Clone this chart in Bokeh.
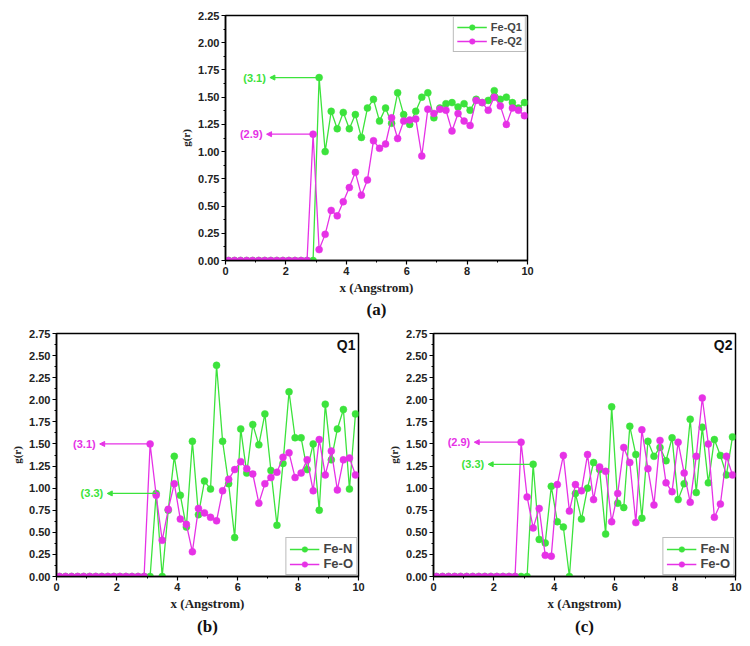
from bokeh.plotting import figure
from bokeh.layouts import column, row, Spacer
from bokeh.models import (Arrow, NormalHead, Label, Legend, LegendItem, Range1d,
                          FixedTicker, NumeralTickFormatter, Title)
from bokeh.embed import file_html
from bokeh.resources import INLINE

# ---------------- data ----------------
r = [round(0.1 + 0.2 * i, 1) for i in range(50)]  # sampling grid (Angstrom)

# panel (a)
fe_q1 = [0.0] * 15 + [1.68, 1.00, 1.37, 1.21, 1.36, 1.21, 1.34, 1.13, 1.40, 1.48,
                      1.28, 1.40, 1.26, 1.54, 1.34, 1.25, 1.37, 1.50, 1.54, 1.31,
                      1.40, 1.44, 1.45, 1.41, 1.44, 1.38, 1.48, 1.45, 1.47, 1.56,
                      1.48, 1.50, 1.45, 1.40, 1.45]
fe_q2 = [0.0] * 14 + [1.16, 0.10, 0.24, 0.46, 0.41, 0.54, 0.67, 0.81, 0.60, 0.74,
                      1.10, 1.03, 1.07, 1.31, 1.12, 1.28, 1.29, 1.30, 0.96, 1.39,
                      1.35, 1.39, 1.38, 1.19, 1.35, 1.28, 1.24, 1.47, 1.45, 1.38,
                      1.50, 1.42, 1.25, 1.40, 1.38, 1.33]

# panel (b) Q1
q1_fe_n = [0.0] * 16 + [0.94, 0.00, 0.75, 1.36, 0.92, 0.56, 1.53, 0.70, 1.08, 0.99,
                        2.39, 1.53, 1.05, 0.44, 1.67, 1.17, 1.72, 1.49, 1.84, 1.20,
                        0.58, 1.28, 2.09, 1.57, 1.57, 1.21, 1.50, 0.75, 1.95, 1.32,
                        1.67, 1.89, 0.99, 1.84]
q1_fe_o = [0.0] * 15 + [1.50, 0.92, 0.41, 0.76, 1.05, 0.65, 0.59, 0.28, 0.77, 0.72,
                        0.67, 0.63, 0.97, 1.10, 1.21, 1.30, 1.22, 1.16, 0.83, 1.05,
                        1.12, 1.18, 1.35, 1.40, 1.12, 1.17, 1.32, 0.97, 1.55, 1.15,
                        1.42, 0.98, 1.32, 1.34, 1.15]

# panel (c) Q2
q2_fe_n = [0.0] * 16 + [1.27, 0.42, 0.38, 1.02, 0.62, 0.56, 0.00, 0.94, 0.65, 1.00,
                        1.29, 1.21, 0.48, 1.92, 0.83, 0.78, 1.70, 1.38, 0.66, 1.53,
                        1.36, 1.46, 1.31, 1.57, 0.87, 1.05, 1.78, 0.95, 1.69, 1.06,
                        1.55, 1.37, 1.15, 1.58]
q2_fe_o = [0.0] * 14 + [1.52, 0.90, 0.55, 0.77, 0.24, 0.23, 1.04, 1.37, 0.74, 1.04,
                        0.97, 1.38, 0.87, 1.24, 1.19, 0.62, 0.94, 1.46, 1.29, 0.61,
                        1.66, 1.22, 0.81, 1.54, 1.06, 0.96, 1.52, 1.17, 0.84, 1.36,
                        2.02, 1.50, 0.67, 0.82, 1.36, 1.15]

x_ticks = [0, 2, 4, 6, 8, 10]
x_minor = [1, 3, 5, 7, 9]
y_ticks_a = [0, 0.25, 0.5, 0.75, 1.0, 1.25, 1.5, 1.75, 2.0, 2.25]
y_ticks_bc = [0, 0.25, 0.5, 0.75, 1.0, 1.25, 1.5, 1.75, 2.0, 2.25, 2.5, 2.75]

GREEN = "#3ce33c"
MAGENTA = "#e632e6"
SANS = "Liberation Sans"
SERIF = "Liberation Serif"


def base_panel(ymax, yticks, fh, left_pad, top_pad, bottom_pad, right_pad):
    p = figure(frame_width=302, frame_height=fh,
               x_range=Range1d(0, 10), y_range=Range1d(0, ymax),
               output_backend="svg", toolbar_location=None,
               min_border_left=left_pad, min_border_top=top_pad,
               min_border_bottom=bottom_pad, min_border_right=right_pad,
               background_fill_color="white", border_fill_color="white")
    p.xgrid.visible = False
    p.ygrid.visible = False
    p.outline_line_color = "black"
    p.outline_line_width = 1.5
    p.outline_line_alpha = 1.0
    minor_y = [v + 0.125 for v in yticks[:-1]]
    p.xaxis.ticker = FixedTicker(ticks=x_ticks, minor_ticks=x_minor)
    p.yaxis.ticker = FixedTicker(ticks=yticks, minor_ticks=minor_y)
    p.yaxis.formatter = NumeralTickFormatter(format="0.00")
    for ax in (p.xaxis[0], p.yaxis[0]):
        ax.axis_line_width = 1.5
        ax.axis_line_color = "black"
        ax.major_tick_in = 0
        ax.major_tick_out = 4
        ax.minor_tick_in = 0
        ax.minor_tick_out = 2
        ax.major_tick_line_width = 1.2
        ax.major_label_text_font = SANS
        ax.major_label_text_font_style = "bold"
        ax.major_label_text_font_size = "11px"
        ax.major_label_text_color = "#222222"
        ax.major_label_standoff = 2
        ax.axis_label_text_font = SERIF
        ax.axis_label_text_font_style = "bold"
        ax.axis_label_text_color = "#222222"
    p.xaxis.axis_label = "x (Angstrom)"
    p.xaxis.axis_label_text_font_size = "13px"
    p.xaxis.axis_label_standoff = 2
    p.yaxis.axis_label = "g(r)"
    p.yaxis.axis_label_text_font_size = "11px"
    p.yaxis.axis_label_standoff = 3
    return p


def add_series(p, ys, color):
    ln = p.line(r, ys, line_color=color, line_width=1.3)
    sc = p.scatter(r, ys, size=7, fill_color=color, line_color=color,
                   line_width=0.5)
    return [ln, sc]


def add_note(p, xs, ys, idx, tip_x, text, color):
    px, py = xs[idx], ys[idx]
    p.add_layout(Arrow(end=NormalHead(size=5, fill_color=color, line_color=color),
                       x_start=px, y_start=py, x_end=tip_x, y_end=py,
                       line_color=color, line_width=1.2))
    p.add_layout(Label(x=tip_x, y=py, x_offset=-4, text=text,
                       text_align="right", text_baseline="middle",
                       text_font=SANS, text_font_style="bold",
                       text_font_size="11px", text_color=color))


def add_legend(p, items, loc, font_size, glyph_w):
    leg = Legend(items=[LegendItem(label=l, renderers=rs) for l, rs in items],
                 location=loc, margin=1, padding=3, spacing=0,
                 label_text_font=SANS, label_text_font_style="bold",
                 label_text_font_size=font_size, label_height=14,
                 glyph_height=14, glyph_width=glyph_w, label_standoff=4,
                 border_line_color="#777777", border_line_width=1.2,
                 background_fill_alpha=1.0)
    p.add_layout(leg)


def add_caption(p, text, standoff):
    p.add_layout(Title(text=text, align="center", text_font=SERIF,
                       text_font_style="bold", text_font_size="17px",
                       text_color="#111111", standoff=standoff), "below")


# ---------------- panel (a) ----------------
pa = base_panel(2.25, y_ticks_a, 245, 48, 7, 63, 10)
ra1 = add_series(pa, fe_q1, GREEN)
ra2 = add_series(pa, fe_q2, MAGENTA)
add_note(pa, r, fe_q1, 15, 1.47, "(3.1)", GREEN)
add_note(pa, r, fe_q2, 14, 1.36, "(2.9)", MAGENTA)
add_legend(pa, [("Fe-Q1", ra1), ("Fe-Q2", ra2)], "top_right", "11px", 30)
add_caption(pa, "(a)", 0)

# ---------------- panel (b) ----------------
pb = base_panel(2.75, y_ticks_bc, 243, 48, 10, 62, 10)
rb1 = add_series(pb, q1_fe_n, GREEN)
rb2 = add_series(pb, q1_fe_o, MAGENTA)
add_note(pb, r, q1_fe_o, 15, 1.43, "(3.1)", MAGENTA)
add_note(pb, r, q1_fe_n, 16, 1.68, "(3.3)", GREEN)
add_legend(pb, [("Fe-N", rb1), ("Fe-O", rb2)], "bottom_right", "13px", 30)
pb.add_layout(Label(x=10, y=2.75, x_offset=-3, y_offset=-3, text="Q1",
                    text_align="right", text_baseline="top", text_font=SANS,
                    text_font_style="bold", text_font_size="14px",
                    text_color="#111111"))
add_caption(pb, "(b)", 3)

# ---------------- panel (c) ----------------
pc = base_panel(2.75, y_ticks_bc, 243, 48, 10, 62, 7)
rc1 = add_series(pc, q2_fe_n, GREEN)
rc2 = add_series(pc, q2_fe_o, MAGENTA)
add_note(pc, r, q2_fe_o, 14, 1.35, "(2.9)", MAGENTA)
add_note(pc, r, q2_fe_n, 16, 1.81, "(3.3)", GREEN)
add_legend(pc, [("Fe-N", rc1), ("Fe-O", rc2)], "bottom_right", "13px", 30)
pc.add_layout(Label(x=10, y=2.75, x_offset=-3, y_offset=-3, text="Q2",
                    text_align="right", text_baseline="top", text_font=SANS,
                    text_font_style="bold", text_font_size="14px",
                    text_color="#111111"))
add_caption(pc, "(c)", 3)

inner = column(row(Spacer(width=169, height=315), pa),
               row(pb, Spacer(width=17, height=315), pc))
layout = column(Spacer(width=8, height=8), row(Spacer(width=8, height=630), inner))

open("out.html", "w").write(file_html(layout, INLINE))
